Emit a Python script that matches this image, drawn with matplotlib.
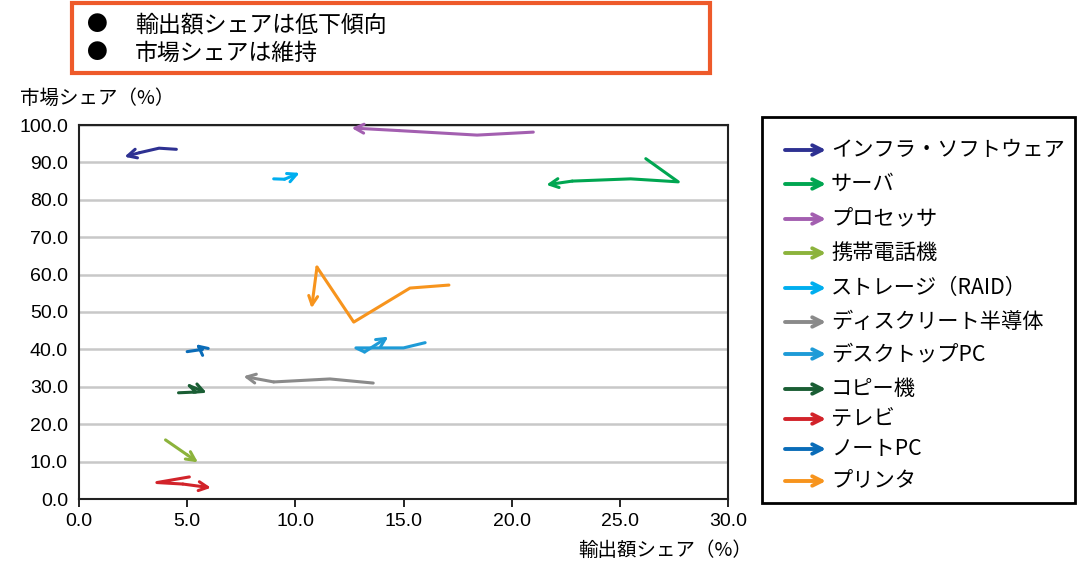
import matplotlib.pyplot as plt
from matplotlib.patches import Rectangle, FancyArrowPatch

JP = ["Noto Sans CJK JP", "DejaVu Sans"]
NUM = ["Liberation Sans Narrow", "Liberation Sans", "DejaVu Sans"]

# (export share %, market share %) tracks, oldest point first
names = [
    "インフラ・ソフトウェア", "サーバ", "プロセッサ", "携帯電話機", "ストレージ（RAID）",
    "ディスクリート半導体", "デスクトップPC", "コピー機", "テレビ", "ノートPC", "プリンタ",
]
colors = [
    "#2e3192", "#00a651", "#a35fb0", "#8cb33c", "#00aeef",
    "#8a8a8a", "#1e9bd7", "#1a5e34", "#d2232a", "#0a6cb8", "#f7941d",
]

infra_x = [4.5, 3.7, 2.8, 2.1]
infra_y = [93.5, 93.8, 92.6, 91.5]
server_x = [26.2, 27.7, 25.5, 22.8, 21.6]
server_y = [91.0, 84.8, 85.6, 85.0, 84.0]
proc_x = [21.0, 18.4, 14.8, 12.6]
proc_y = [98.1, 97.3, 98.5, 99.2]
phone_x = [4.0, 5.0, 5.5]
phone_y = [15.8, 11.8, 9.8]
storage_x = [9.0, 9.5, 10.2]
storage_y = [85.6, 85.5, 87.2]
discrete_x = [13.6, 11.6, 9.0, 7.6]
discrete_y = [31.0, 32.1, 31.3, 32.8]
desktop_x = [16.0, 15.0, 12.8, 13.2, 14.3]
desktop_y = [41.8, 40.4, 40.4, 39.3, 43.4]
copier_x = [4.6, 5.4, 5.1, 5.9]
copier_y = [28.4, 28.6, 30.3, 28.4]
tv_x = [5.1, 3.6, 4.8, 6.1]
tv_y = [5.9, 4.4, 4.0, 3.0]
note_x = [5.0, 5.7, 5.4]
note_y = [39.4, 40.0, 41.4]
printer_x = [17.1, 15.3, 12.7, 11.0, 10.75]
printer_y = [57.2, 56.4, 47.3, 62.0, 51.0]

tracks = [
    (infra_x, infra_y), (server_x, server_y), (proc_x, proc_y), (phone_x, phone_y),
    (storage_x, storage_y), (discrete_x, discrete_y), (desktop_x, desktop_y),
    (copier_x, copier_y), (tv_x, tv_y), (note_x, note_y), (printer_x, printer_y),
]

x_ticks = [0, 5, 10, 15, 20, 25, 30]
y_ticks = [0, 10, 20, 30, 40, 50, 60, 70, 80, 90, 100]

fig = plt.figure(figsize=(10.88, 5.61), dpi=100)
ax = fig.add_axes([79 / 1088, 62 / 561, 649 / 1088, 374 / 561])

for (xs, ys), c in zip(tracks, colors):
    ax.plot(xs[:-1], ys[:-1], color=c, lw=2.2, solid_capstyle="round",
            solid_joinstyle="round", zorder=3)
    ax.annotate("", xy=(xs[-1], ys[-1]), xytext=(xs[-2], ys[-2]),
                arrowprops=dict(arrowstyle="->", color=c, lw=2.2,
                                shrinkA=0, shrinkB=0, mutation_scale=16),
                zorder=3)

ax.set_xlim(0, 30)
ax.set_ylim(0, 100)
ax.set_xticks(x_ticks)
ax.set_yticks(y_ticks)
ax.set_xticklabels([f"{v:.1f}" for v in x_ticks], family=NUM, fontsize=14)
ax.set_yticklabels([f"{v:.1f}" for v in y_ticks], family=NUM, fontsize=14)
ax.tick_params(axis="x", direction="out", length=6, width=1.2, pad=4)
ax.tick_params(axis="y", length=0, pad=8)
ax.yaxis.grid(True, color="#c8c8c8", lw=1.8)
ax.set_axisbelow(True)
for s in ax.spines.values():
    s.set_linewidth(1.5)
    s.set_color("#222222")

fig.text(20 / 1088, 1 - 98 / 561, "市場シェア（%）", family=JP, fontsize=14,
         va="center", ha="left")
fig.text(752 / 1088, 1 - 550 / 561, "輸出額シェア（%）", family=JP, fontsize=14,
         va="center", ha="right")

# headline box
fig.patches.append(Rectangle((72 / 1088, 1 - 73 / 561), 638 / 1088, 70 / 561,
                             transform=fig.transFigure, fill=False,
                             edgecolor="#ee5a2a", lw=3))
for ty, txt in [(25, "輸出額シェアは低下傾向"), (53, "市場シェアは維持")]:
    fig.text(97 / 1088, 1 - ty / 561, "●", family=JP, fontsize=15,
             va="center", ha="center")
    fig.text(135 / 1088, 1 - ty / 561, txt, family=JP, fontsize=16.5,
             va="center", ha="left")

# legend panel
fig.patches.append(Rectangle((762 / 1088, 1 - 503 / 561), 313 / 1088, 386 / 561,
                             transform=fig.transFigure, fill=False,
                             edgecolor="black", lw=2))
legend_rows = [150, 184, 219, 253, 288, 322, 354, 389, 419, 449, 481]
for name, c, ry in zip(names, colors, legend_rows):
    yy = 1 - ry / 561
    fig.add_artist(FancyArrowPatch(
        (785 / 1088, yy), (826 / 1088, yy), transform=fig.transFigure,
        arrowstyle="->", color=c, lw=2.8, mutation_scale=17,
        shrinkA=0, shrinkB=0))
    fig.text(831 / 1088, yy, name, family=JP, fontsize=15.3,
             va="center", ha="left")

fig.savefig("out.png", dpi=100)
